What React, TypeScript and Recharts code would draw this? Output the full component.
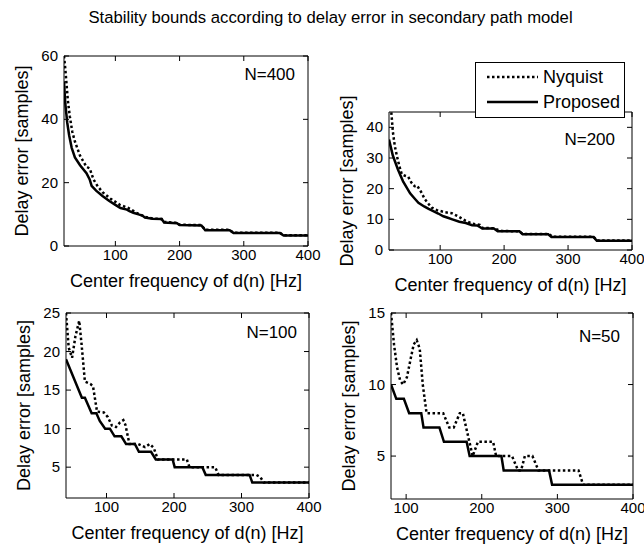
import React from 'react';
import { LineChart, Line, XAxis, YAxis, Label, Legend } from 'recharts';

const FONT = '"Liberation Sans", Arial, Helvetica, sans-serif';
const W = 644;
const H = 546;

const title = 'Stability bounds according to delay error in secondary path model';
const xLabel = 'Center frequency of d(n) [Hz]';
const yLabel = 'Delay error [samples]';
const freqTicks = [100, 200, 300, 400];

// N=400
const n400ProposedHz = [20, 22, 25, 28, 32, 37, 45, 55, 60, 63, 70, 80, 90, 100, 108, 118, 122, 128, 136, 142, 146, 158, 172, 176, 196, 200, 234, 240, 278, 284, 356, 362, 400];
const n400ProposedDelay = [52, 45, 39, 35, 31, 28, 25.5, 23, 21, 19, 17.5, 15.8, 14.3, 13, 12, 11.5, 11, 10.5, 10, 9.6, 9, 8.6, 8.5, 7.4, 7.2, 6.6, 6.5, 5, 5, 4.1, 4.1, 3.3, 3.3];
const n400NyquistHz = [20, 22, 24, 26, 29, 33, 37, 45, 55, 60, 66, 72, 80, 92, 107, 120, 133, 146, 158, 172, 176, 196, 200, 234, 240, 278, 284, 356, 362, 400];
const n400NyquistDelay = [60, 56, 51, 46, 41, 36, 33, 28.5, 25, 24.5, 21, 19, 17, 15, 13, 12, 10.5, 9.2, 8.7, 8.5, 7.6, 7.3, 6.7, 6.6, 5.1, 5.1, 4.2, 4.2, 3.4, 3.4];
const n400YTicks = [0, 20, 40, 60];

// N=200
const n200ProposedHz = [20, 26, 34, 42, 53, 60, 66, 75, 82, 90, 97, 105, 112, 119, 130, 140, 150, 158, 166, 184, 190, 224, 229, 269, 274, 340, 345, 400];
const n200ProposedDelay = [36, 30.8, 26.2, 22.4, 18.5, 16.8, 15.4, 14.2, 13.4, 12.6, 11.9, 11, 10.5, 10, 9.2, 8.8, 8.1, 8, 7, 7, 6.1, 6.1, 5.1, 5.1, 4.2, 4.2, 3, 3];
const n200NyquistHz = [20, 24, 26, 29, 32, 36, 40, 45, 50, 55, 60, 64, 70, 76, 82, 87, 95, 108, 118, 127, 140, 150, 162, 166, 184, 190, 196, 224, 229, 270, 276, 340, 345, 400];
const n200NyquistDelay = [53, 44, 38.6, 34, 31, 27.5, 24.7, 24.2, 23.9, 22, 20.8, 21, 19, 16.6, 15, 13.8, 13, 12.3, 12, 11.1, 9.5, 8.6, 8.2, 7.2, 7.1, 6.6, 6.2, 6.1, 5.2, 5.2, 4.3, 4.3, 3.1, 3.1];
const n200YTicks = [0, 10, 20, 30, 40];

// N=100
const n100ProposedHz = [40, 63.5, 68, 78, 85, 90, 98, 105, 112, 122, 129, 142, 148, 166, 173, 198, 201, 242, 247, 312, 316, 400];
const n100ProposedDelay = [19, 14, 14, 12, 12, 11, 10, 10, 9, 9, 8, 8, 7, 7, 6, 6, 5, 5, 4, 4, 3, 3];
const n100NyquistHz = [40, 44, 49, 54, 59.6, 63, 68, 76, 80, 86, 96, 102, 108, 114, 120, 125, 128, 134, 147, 157, 164, 170, 176, 219, 223, 261, 266, 322, 328, 333, 400];
const n100NyquistDelay = [25, 20.5, 19.2, 22, 24, 21, 16.1, 15.8, 15.5, 12.2, 12.1, 11.5, 10.4, 10.2, 10.8, 11.1, 10.5, 8, 8, 7.6, 8, 7.5, 6, 6, 5, 5, 4, 4, 3.7, 3, 3];
const n100YTicks = [5, 10, 15, 20, 25];

// N=50
const n50ProposedHz = [80, 87, 97, 104, 120, 123, 144, 150, 180, 184, 226, 229, 289, 293, 400];
const n50ProposedDelay = [10, 9, 9, 8, 8, 7, 7, 6, 6, 5, 5, 4, 4, 3, 3];
const n50NyquistHz = [80, 84, 88, 92, 96, 101, 106, 110, 114, 118, 122, 127, 149, 157, 163, 171, 175, 188, 195, 201, 215, 219, 240, 248, 252, 257, 267, 275, 328, 334, 400];
const n50NyquistDelay = [15, 12.8, 11.2, 10.3, 10, 10.5, 11.8, 12.8, 13.1, 12.5, 10, 8, 8, 7, 7, 8, 8, 5, 6, 6, 6, 5, 5, 4, 4, 5, 5, 4, 4, 3, 3];
const n50YTicks = [5, 10, 15];

const toPoints = (hz: number[], delay: number[]) => hz.map((f, i) => ({ f, d: delay[i] }));

interface Box {
  left: number;
  top: number;
  right: number;
  bottom: number;
}

// axes get a 1px thickness (0 hides them), margins compensate for it
const AXIS = 1;

const BottomTick = (props: any) => {
  const { x, y, payload } = props;
  return (
    <g>
      <line x1={x} y1={y} x2={x} y2={y - 5} stroke="#000" />
      <text x={x} y={y + 14} textAnchor="middle" fontSize={15} fontFamily={FONT} fill="#000">
        {payload.value}
      </text>
    </g>
  );
};

const TopTick = (props: any) => {
  const { x, y } = props;
  return <line x1={x} y1={y} x2={x} y2={y + 5} stroke="#000" />;
};

const LeftTick = (props: any) => {
  const { x, y, payload } = props;
  return (
    <g>
      <line x1={x} y1={y} x2={x + 5} y2={y} stroke="#000" />
      <text x={x - 6} y={y + 5} textAnchor="end" fontSize={15} fontFamily={FONT} fill="#000">
        {payload.value}
      </text>
    </g>
  );
};

const RightTick = (props: any) => {
  const { x, y } = props;
  return <line x1={x} y1={y} x2={x - 5} y2={y} stroke="#000" />;
};

const XTitle = (props: any) => {
  const vb = props.viewBox;
  return (
    <text x={vb.x + vb.width / 2} y={vb.y + 41} textAnchor="middle" fontSize={18} fontFamily={FONT} fill="#000">
      {xLabel}
    </text>
  );
};

const YTitle = (props: any) => {
  const vb = props.viewBox;
  const cx = vb.x + vb.width - 36;
  const cy = vb.y + vb.height / 2;
  return (
    <text x={cx} y={cy} transform={`rotate(-90 ${cx} ${cy})`} textAnchor="middle" fontSize={18} fontFamily={FONT} fill="#000">
      {yLabel}
    </text>
  );
};

const legendStyles: Record<string, string | undefined> = {
  Nyquist: '2.5 2.5',
  Proposed: undefined,
};

const LegendBox = (props: any) => {
  const items = props.payload || [];
  return (
    <svg width={150} height={56} style={{ display: 'block' }}>
      <rect x={0.5} y={0.5} width={149} height={55} fill="#fff" stroke="#000" />
      {items.map((item: any, i: number) => {
        const cy = 15 + i * 25;
        return (
          <g key={item.value}>
            <line x1={12} y1={cy} x2={63} y2={cy} stroke="#000" strokeWidth={2.5} strokeDasharray={legendStyles[item.value]} />
            <text x={68} y={cy + 6} fontSize={18} fontFamily={FONT} fill="#000">
              {item.value}
            </text>
          </g>
        );
      })}
    </svg>
  );
};

interface PanelProps {
  box: Box;
  xDomain: [number, number];
  yDomain: [number, number];
  yTicks: number[];
  nyquist: { f: number; d: number }[];
  proposed: { f: number; d: number }[];
  showLegend?: boolean;
}

function Panel({ box, xDomain, yDomain, yTicks, nyquist, proposed, showLegend }: PanelProps) {
  const margin = {
    left: box.left - AXIS,
    top: box.top - AXIS,
    right: W - box.right - AXIS,
    bottom: H - box.bottom - AXIS,
  };
  const axisLine = { stroke: '#000', strokeWidth: 1 };
  return (
    <div style={{ position: 'absolute', left: 0, top: 0 }}>
      <LineChart width={W} height={H} margin={margin}>
        <XAxis xAxisId="b" type="number" dataKey="f" domain={xDomain} ticks={freqTicks} interval={0} allowDataOverflow height={AXIS} tickSize={0} tickMargin={0} tickLine={false} axisLine={axisLine} tick={BottomTick}>
          <Label content={XTitle} />
        </XAxis>
        <XAxis xAxisId="t" orientation="top" type="number" dataKey="f" domain={xDomain} ticks={freqTicks} interval={0} allowDataOverflow height={AXIS} tickSize={0} tickMargin={0} tickLine={false} axisLine={axisLine} tick={TopTick} />
        <YAxis yAxisId="l" type="number" domain={yDomain} ticks={yTicks} interval={0} allowDataOverflow width={AXIS} tickSize={0} tickMargin={0} tickLine={false} axisLine={axisLine} tick={LeftTick}>
          <Label content={YTitle} />
        </YAxis>
        <YAxis yAxisId="r" orientation="right" type="number" domain={yDomain} ticks={yTicks} interval={0} allowDataOverflow width={AXIS} tickSize={0} tickMargin={0} tickLine={false} axisLine={axisLine} tick={RightTick} />
        {showLegend && (
          <Legend
            layout="vertical"
            align="center"
            verticalAlign="top"
            content={LegendBox}
            wrapperStyle={{ position: 'absolute', left: 475, top: 62, width: 150, height: 56 }}
          />
        )}
        <Line xAxisId="b" yAxisId="l" data={nyquist} dataKey="d" name="Nyquist" type="linear" stroke="#000" strokeWidth={2.5} strokeDasharray="2.5 2.5" dot={false} isAnimationActive={false} />
        <Line xAxisId="b" yAxisId="l" data={proposed} dataKey="d" name="Proposed" type="linear" stroke="#000" strokeWidth={2.5} dot={false} isAnimationActive={false} />
      </LineChart>
    </div>
  );
}

const tagStyle: React.CSSProperties = {
  position: 'absolute',
  fontFamily: FONT,
  fontSize: 17,
  lineHeight: '20px',
  color: '#000',
  textAlign: 'right',
  width: 80,
};

export default function App() {
  return (
    <div style={{ position: 'absolute', left: 0, top: 0, width: W, height: H, background: '#fff', overflow: 'hidden' }}>
      <div style={{ position: 'absolute', left: 0, top: 8, width: 661, textAlign: 'center', fontFamily: FONT, fontSize: 16.7, lineHeight: '20px', color: '#000' }}>
        {title}
      </div>
      <Panel box={{ left: 64, top: 56, right: 308, bottom: 246 }} xDomain={[20, 400]} yDomain={[0, 60]} yTicks={n400YTicks} nyquist={toPoints(n400NyquistHz, n400NyquistDelay)} proposed={toPoints(n400ProposedHz, n400ProposedDelay)} />
      <Panel box={{ left: 389, top: 56, right: 632, bottom: 250 }} xDomain={[20, 400]} yDomain={[0, 45]} yTicks={n200YTicks} nyquist={toPoints(n200NyquistHz, n200NyquistDelay)} proposed={toPoints(n200ProposedHz, n200ProposedDelay)} showLegend />
      <Panel box={{ left: 66, top: 313, right: 309, bottom: 498 }} xDomain={[40, 400]} yDomain={[1, 25]} yTicks={n100YTicks} nyquist={toPoints(n100NyquistHz, n100NyquistDelay)} proposed={toPoints(n100ProposedHz, n100ProposedDelay)} />
      <Panel box={{ left: 391, top: 313, right: 633, bottom: 499 }} xDomain={[80, 400]} yDomain={[2, 15]} yTicks={n50YTicks} nyquist={toPoints(n50NyquistHz, n50NyquistDelay)} proposed={toPoints(n50ProposedHz, n50ProposedDelay)} />
      <div style={{ ...tagStyle, left: 215, top: 65 }}>N=400</div>
      <div style={{ ...tagStyle, left: 535, top: 130 }}>N=200</div>
      <div style={{ ...tagStyle, left: 217, top: 323 }}>N=100</div>
      <div style={{ ...tagStyle, left: 540, top: 327 }}>N=50</div>
    </div>
  );
}
